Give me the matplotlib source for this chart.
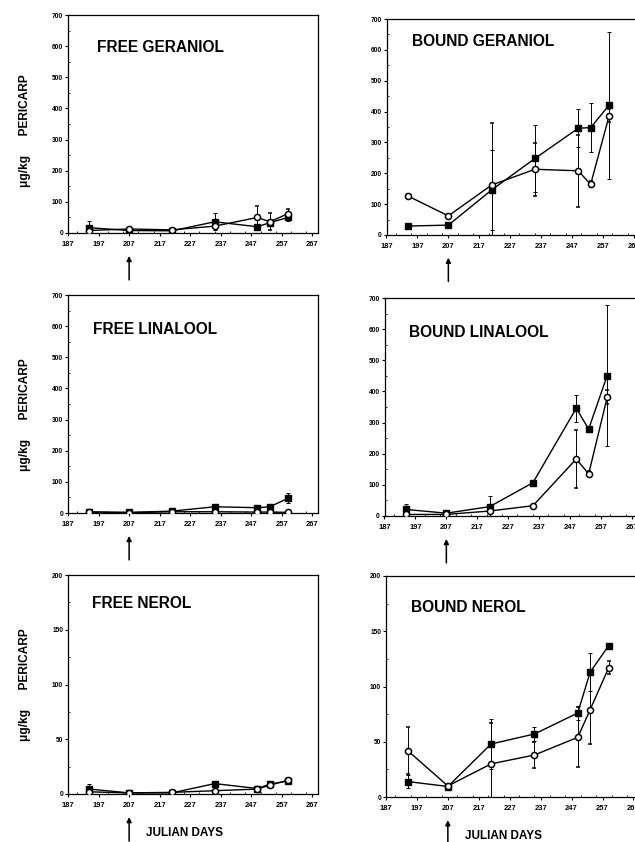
import matplotlib
matplotlib.use("Agg")
import matplotlib.pyplot as plt
from matplotlib.ticker import MultipleLocator

plt.rcParams['font.family'] = ['Liberation Sans', 'DejaVu Sans']
plt.rcParams['font.weight'] = 'bold'

# ---------------- data ----------------
days = [194, 207, 221, 235, 249, 253, 259]
x_ticks = [187, 197, 207, 217, 227, 237, 247, 257, 267]

titles = ["FREE GERANIOL", "BOUND GERANIOL",
          "FREE LINALOOL", "BOUND LINALOOL",
          "FREE NEROL", "BOUND NEROL"]

# filled squares / open circles, with error bars
free_ger_sq = [17, 8, 7, 36, 20, 33, 50]
free_ger_sq_err = [23, 0, 0, 27, 6, 8, 10]
free_ger_ci = [8, 13, 10, 22, 50, 36, 62]
free_ger_ci_err = [0, 0, 0, 0, 37, 27, 16]

bound_ger_sq = [29, 32, 146, 248, 346, 348, 421]
bound_ger_sq_err = [0, 0, 129, 108, 61, 80, 238]
bound_ger_ci = [126, 62, 162, 213, 208, 164, 387]
bound_ger_ci_err = [0, 0, 200, 86, 116, 10, 20]

free_lin_sq = [4, 2, 6, 20, 17, 20, 47]
free_lin_sq_err = [0, 0, 0, 4, 5, 5, 16]
free_lin_ci = [2, 1, 4, 4, 3, 3, 2]
free_lin_ci_err = [0, 0, 0, 0, 0, 0, 0]

bound_lin_sq = [21, 9, 30, 107, 346, 279, 451]
bound_lin_sq_err = [16, 0, 34, 0, 43, 0, 225]
bound_lin_ci = [5, 5, 16, 33, 183, 135, 381]
bound_lin_ci_err = [0, 0, 0, 0, 93, 8, 22]

free_ner_sq = [4.5, 1, 1, 9.5, 5, 9, 12]
free_ner_sq_err = [5, 0, 0, 1, 1, 1, 1]
free_ner_ci = [2, 1, 1.5, 3, 4.5, 8, 12.5]
free_ner_ci_err = [0, 0, 0, 0, 0, 0, 0]

bound_ner_sq = [14, 9.5, 48, 57, 76, 113, 137]
bound_ner_sq_err = [6, 0, 23, 6, 6, 17, 0]
bound_ner_ci = [42, 10, 30, 38, 54, 79, 117]
bound_ner_ci_err = [21, 0, 37, 12, 27, 31, 6]

ymax = [700, 700, 700, 700, 200, 200]
ystep = [100, 100, 100, 100, 50, 50]
arrow_day = 207
ylabel_text = "\u03bcg/kg      PERICARP"
xlabel_text = "JULIAN DAYS"

series = [
    (free_ger_sq, free_ger_sq_err, free_ger_ci, free_ger_ci_err),
    (bound_ger_sq, bound_ger_sq_err, bound_ger_ci, bound_ger_ci_err),
    (free_lin_sq, free_lin_sq_err, free_lin_ci, free_lin_ci_err),
    (bound_lin_sq, bound_lin_sq_err, bound_lin_ci, bound_lin_ci_err),
    (free_ner_sq, free_ner_sq_err, free_ner_ci, free_ner_ci_err),
    (bound_ner_sq, bound_ner_sq_err, bound_ner_ci, bound_ner_ci_err),
]

# ---------------- layout (pixels) ----------------
W, H = 635, 842
fig = plt.figure(figsize=(W / 100, H / 100), dpi=100)

# (left, top, bottom, width) in pixels
boxes = [(68, 15, 233, 250), (386.5, 19, 235, 253),
         (68, 295, 513, 250), (384.5, 298, 516, 253),
         (68, 575, 794, 250), (386, 576, 797, 253)]
title_pos = [(0.116, 0.853), (0.10, 0.894),
             (0.10, 0.84), (0.096, 0.844),
             (0.096, 0.872), (0.10, 0.858)]
ylabel_y = [0.47, None, 0.45, None, 0.50, None]

for i, ((l, t, b, w), (sq, sqe, ci, cie)) in enumerate(zip(boxes, series)):
    ax = fig.add_axes([l / W, 1 - b / H, w / W, (b - t) / H])
    ax.set_xlim(187, 268.8)
    ax.set_ylim(0, ymax[i])

    ax.errorbar(days, sq, yerr=sqe, color='black', lw=1.0, marker='s',
                ms=4.4, mfc='black', mec='black', elinewidth=0.7,
                capsize=1.5, capthick=0.7, zorder=3)
    ax.errorbar(days, ci, yerr=cie, color='black', lw=1.0, marker='o',
                ms=4.4, mfc='white', mec='black', mew=1.1, elinewidth=0.7,
                capsize=1.5, capthick=0.7, zorder=4)

    ax.set_xticks(x_ticks)
    ax.set_xticklabels([str(v) for v in x_ticks])
    ax.xaxis.set_minor_locator(MultipleLocator(5))
    ax.yaxis.set_major_locator(MultipleLocator(ystep[i]))
    ax.yaxis.set_minor_locator(MultipleLocator(ystep[i] / 2))
    ax.tick_params(axis='x', which='major', direction='out', length=2.2,
                   width=0.8, pad=3.5, labelsize=5.4)
    ax.tick_params(axis='y', which='major', direction='out', length=2.0,
                   width=0.8, pad=1.5, labelsize=4.8)
    ax.tick_params(which='minor', direction='in', length=1.5, width=0.6)
    for lab in ax.get_xticklabels() + ax.get_yticklabels():
        lab.set_fontweight('bold')
    for sp in ax.spines.values():
        sp.set_linewidth(0.9)

    tx, ty = title_pos[i]
    ax.text(tx, ty, titles[i], transform=ax.transAxes, fontsize=11.2,
            fontweight='bold', ha='left', va='center')

    if ylabel_y[i] is not None:
        ax.text(-0.172, ylabel_y[i], ylabel_text, transform=ax.transAxes,
                rotation=90, fontsize=8.6, fontweight='bold',
                ha='center', va='center')

    ax.annotate('', xy=(arrow_day, -0.105), xycoords=('data', 'axes fraction'),
                xytext=(arrow_day, -0.215), textcoords=('data', 'axes fraction'),
                arrowprops=dict(arrowstyle='-|>', lw=1.1, color='black',
                                mutation_scale=7, shrinkA=0, shrinkB=0),
                annotation_clip=False)

    if i >= 4:
        ax.text(212.5, -0.178, xlabel_text, transform=ax.get_xaxis_transform(),
                fontsize=8.5, fontweight='bold', ha='left', va='center')

fig.savefig("out.png", dpi=100)
